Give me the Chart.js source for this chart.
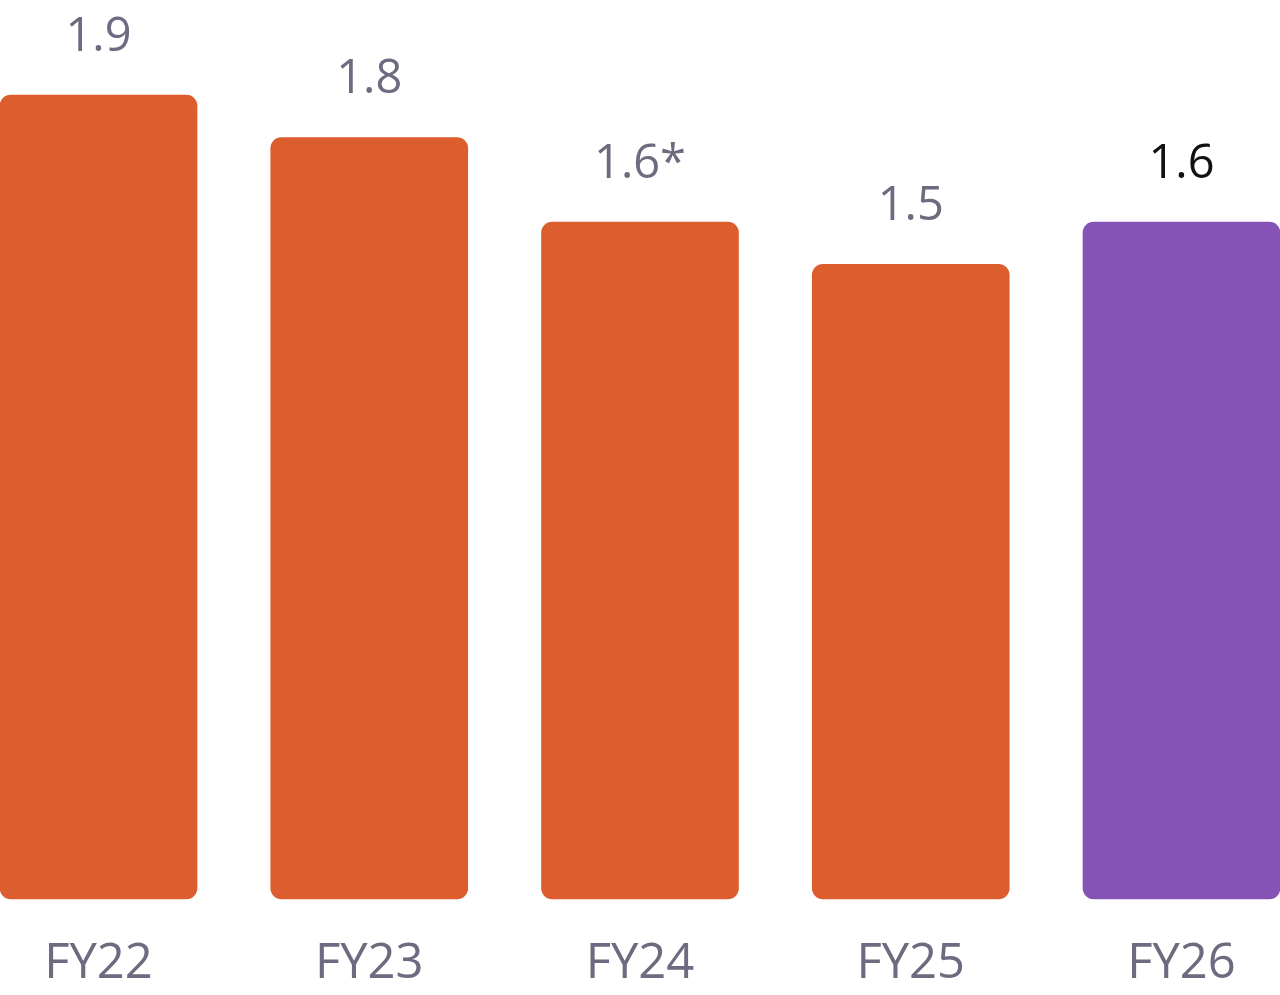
<!DOCTYPE html>
<html>
<head>
<meta charset="utf-8">
<script src="https://cdn.jsdelivr.net/npm/chart.js@4/dist/chart.umd.min.js"></script>
<style>
  body { margin: 0; background: #fff; }
  #wrap { width: 1280px; height: 995px; }
</style>
</head>
<body>
<div id="wrap"><canvas id="myChart"></canvas></div>
<script>
var years = ["FY22", "FY23", "FY24", "FY25", "FY26"];
var values = [1.9, 1.8, 1.6, 1.5, 1.6];
var valueLabels = ["1.9", "1.8", "1.6*", "1.5", "1.6"];
var barColors = ["#dc5d2d", "#dc5d2d", "#dc5d2d", "#dc5d2d", "#8453b5"];
var labelColors = ["#6c6b80", "#6c6b80", "#6c6b80", "#6c6b80", "#111111"];

// draw the numbers above the bars
var valueLabelPlugin = {
  id: "valueLabels",
  afterDatasetsDraw: function (chart) {
    var ctx = chart.ctx;
    var meta = chart.getDatasetMeta(0);
    ctx.save();
    ctx.font = "47px 'Open Sans'";
    ctx.textAlign = "center";
    ctx.textBaseline = "alphabetic";
    meta.data.forEach(function (bar, i) {
      ctx.fillStyle = labelColors[i];
      ctx.fillText(valueLabels[i], bar.x, bar.y - 44);
    });
    ctx.restore();
  }
};

var ctx = document.getElementById("myChart");
var myChart = new Chart(ctx, {
  type: "bar",
  data: {
    labels: years,
    datasets: [{
      data: values,
      backgroundColor: barColors,
      borderRadius: 11,
      borderSkipped: false,
      barThickness: 197,
      clip: false
    }]
  },
  options: {
    responsive: true,
    maintainAspectRatio: false,
    animation: false,
    layout: { padding: { left: 98.5, right: 98.5, top: 0, bottom: 0 } },
    plugins: { legend: { display: false }, tooltip: { enabled: false } },
    scales: {
      x: {
        offset: false,
        grid: { display: false },
        border: { display: false },
        ticks: {
          color: "#6c6b80",
          font: { family: "'Open Sans'", size: 49 },
          padding: 28,
          maxRotation: 0,
          autoSkip: false
        },
        afterFit: function (scale) { scale.height = 96; }
      },
      y: {
        display: false,
        min: 0,
        max: 2.125
      }
    }
  },
  plugins: [valueLabelPlugin]
});
</script>
</body>
</html>
